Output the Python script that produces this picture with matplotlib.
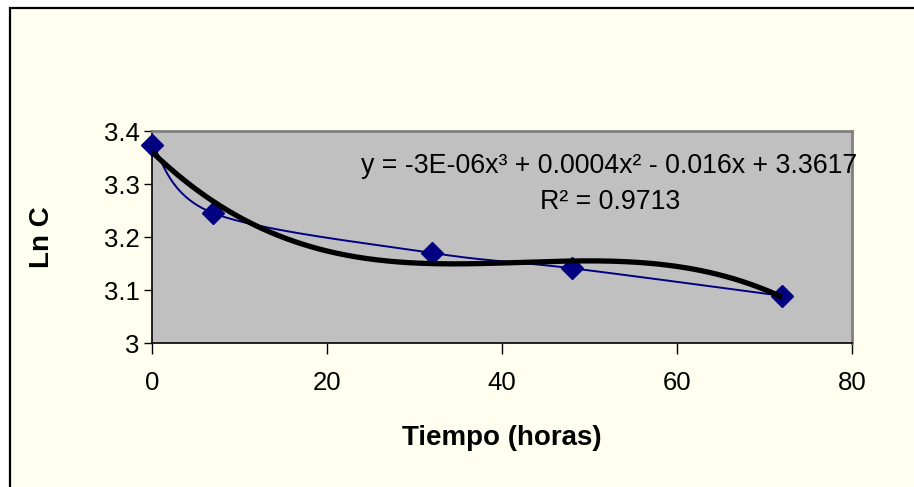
import numpy as np
import matplotlib
matplotlib.use("Agg")
import matplotlib.pyplot as plt
from matplotlib.patches import Rectangle

# Measured ln(concentration) over time
tiempo = [0, 7, 32, 48, 72]
ln_c = [3.374, 3.245, 3.170, 3.141, 3.089]

x_ticks = [0, 20, 40, 60, 80]
y_ticks = [3.0, 3.1, 3.2, 3.3, 3.4]
y_tick_labels = ["3", "3.1", "3.2", "3.3", "3.4"]

eq_text = "y = -3E-06x³ + 0.0004x² - 0.016x + 3.3617"
r2_text = "R² = 0.9713"

plt.rcParams["font.family"] = ["Liberation Sans", "DejaVu Sans"]

W, H = 914, 487
fig = plt.figure(figsize=(W / 100, H / 100), dpi=100)
fig.patch.set_facecolor("white")

# Chart frame
frame = Rectangle((10 / W, -0.05), 1.2, 1 - 8 / H + 0.05, transform=fig.transFigure,
                  facecolor="#FFFFF0", edgecolor="black", linewidth=1.6, zorder=-10)
fig.patches.append(frame)

ax = fig.add_axes([152 / W, 1 - 343 / H, 700 / W, 212 / H])
ax.set_zorder(1)
ax.set_facecolor("#C0C0C0")
ax.set_xlim(0, 80)
ax.set_ylim(3.0, 3.4)


def smooth_curve(xs, ys, n=60):
    """Piecewise cubic Bezier through the points (Catmull-Rom style smoothing)."""
    xs = np.asarray(xs, float)
    ys = np.asarray(ys, float)
    px = np.concatenate([[xs[0]], xs, [xs[-1]]])
    py = np.concatenate([[ys[0]], ys, [ys[-1]]])
    out_x, out_y = [], []
    t = np.linspace(0, 1, n)
    for i in range(1, len(px) - 2):
        p0 = np.array([px[i], py[i]])
        p3 = np.array([px[i + 1], py[i + 1]])
        c1 = p0 + (np.array([px[i + 1], py[i + 1]]) - np.array([px[i - 1], py[i - 1]])) / 6
        c2 = p3 - (np.array([px[i + 2], py[i + 2]]) - np.array([px[i], py[i]])) / 6
        b = ((1 - t) ** 3)[:, None] * p0 + (3 * (1 - t) ** 2 * t)[:, None] * c1 \
            + (3 * (1 - t) * t ** 2)[:, None] * c2 + (t ** 3)[:, None] * p3
        out_x.extend(b[:, 0])
        out_y.extend(b[:, 1])
    return np.array(out_x), np.array(out_y)


sx, sy = smooth_curve(tiempo, ln_c)
ax.plot(sx, sy, color="#000080", linewidth=1.4, zorder=2, clip_on=False)
ax.plot(tiempo, ln_c, linestyle="none", marker="D", markersize=11,
        color="#000080", zorder=3, clip_on=False)

# Third-order polynomial trendline
coef = np.polyfit(tiempo, ln_c, 3)
tx = np.linspace(min(tiempo), max(tiempo), 300)
ax.plot(tx, np.polyval(coef, tx), color="black", linewidth=3.8, zorder=4,
        solid_capstyle="butt")

ax.set_xticks(x_ticks)
ax.set_xticklabels([str(v) for v in x_ticks])
ax.set_yticks(y_ticks)
ax.set_yticklabels(y_tick_labels)
ax.tick_params(axis="x", direction="out", length=8, width=1, pad=12, labelsize=18.5)
ax.tick_params(axis="y", direction="out", length=6, width=1, pad=3, labelsize=18.5)

for side in ("left", "bottom"):
    ax.spines[side].set_color("black")
    ax.spines[side].set_linewidth(1.2)
for side in ("top", "right"):
    ax.spines[side].set_color("#808080")
    ax.spines[side].set_linewidth(2)

ax.set_xlabel("Tiempo (horas)", fontsize=20, fontweight="bold", labelpad=22)
ax.set_ylabel("Ln C", fontsize=20, fontweight="bold", labelpad=35)

ax.text(1.007, 0.835, eq_text, transform=ax.transAxes, ha="right", va="center",
        fontsize=19.3, zorder=5, clip_on=False)
ax.text(0.655, 0.665, r2_text, transform=ax.transAxes, ha="center", va="center",
        fontsize=19.3, zorder=5)

fig.savefig("out.png", dpi=100, facecolor=fig.get_facecolor())
